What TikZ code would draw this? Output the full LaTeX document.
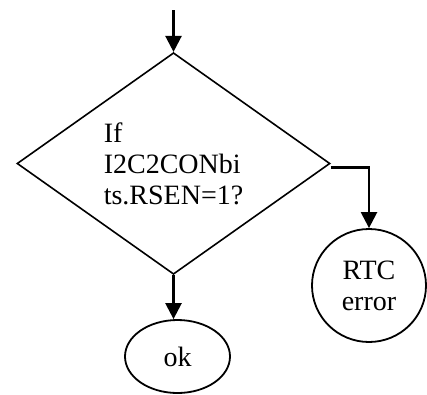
\documentclass[tikz,border=0pt]{standalone}
\usepackage{fontspec}
\setmainfont{Liberation Serif}
\usetikzlibrary{shapes.geometric,arrows.meta}
\begin{document}
\begin{tikzpicture}[x=1pt,y=-1pt,
  txt/.style={font=\fontsize{28}{31}\selectfont},
  decision/.style={draw,diamond,line width=1.6pt,inner sep=0pt,
    minimum width=313pt,minimum height=221pt,txt,align=left},
  term/.style={draw,ellipse,line width=1.8pt,inner sep=0pt,txt,align=center},
  flow/.style={line width=2.4pt,-{Triangle[length=16pt,width=16pt]}}]
\useasboundingbox (0,0) rectangle (427,394);
\coordinate (start) at (173.5,10);
\node[decision] (d) at (173.5,163.5) {If\\I2C2CONbi\\ts.RSEN=1?};
\node[term,minimum width=114pt,minimum height=113pt] (rtc) at (369,285.5) {RTC\\error};
\node[term,minimum width=105pt,minimum height=73pt] (ok) at (177.5,356.5) {ok};
\draw[flow] (start) -- (d.north);
\draw[flow] ([yshift=-4pt]d.east) -| (rtc.north);
\draw[flow] (d.south) -- (d.south |- ok.north);
\end{tikzpicture}
\end{document}
